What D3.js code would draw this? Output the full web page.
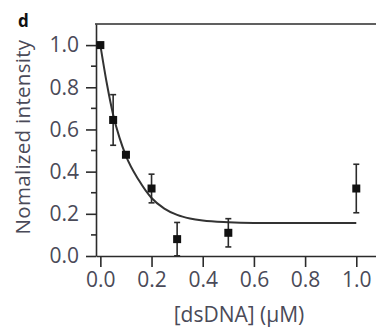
<!DOCTYPE html>
<html>
<head>
<meta charset="utf-8">
<script src="https://cdn.jsdelivr.net/npm/d3@7"></script>
<style>
  body { margin: 0; background: #fff; }
  svg text { font-family: "Open Sans", "Noto Sans", sans-serif; }
</style>
</head>
<body>
<script>
"use strict";
// Data
const conc = [0, 0.05, 0.1, 0.2, 0.3, 0.5, 1.0];
const intensity = [1.0, 0.645, 0.48, 0.32, 0.08, 0.11, 0.32];
const errors = [0, 0.12, 0, 0.068, 0.079, 0.067, 0.115];

// Fitted curve, points
const fitX = [0, 0.025, 0.05, 0.075, 0.1, 0.15, 0.2, 0.25, 0.3, 0.35, 0.4, 0.5, 0.6, 0.8, 1.0];
const fitY = [1.0, 0.82, 0.67, 0.56, 0.475, 0.36, 0.275, 0.225, 0.195, 0.178, 0.168, 0.16, 0.157, 0.156, 0.157];

const xTicks = [0, 0.2, 0.4, 0.6, 0.8, 1.0];
const yTicks = [0, 0.2, 0.4, 0.6, 0.8, 1.0];
const yMinor = [0.1, 0.3, 0.5, 0.7, 0.9];

const width = 376, height = 335;
const ink = "#2b2b2b";
const labelColor = "#4a4a58";

const svg = d3.select("body").append("svg")
    .attr("width", width)
    .attr("height", height);

// Scales
const x = d3.scaleLinear().domain([-0.017, 1.12]).range([96, 387]);
const y = d3.scaleLinear().domain([0, 1.1]).range([256, 24]);

// Top frame line
svg.append("line")
    .attr("x1", 95).attr("x2", width + 10)
    .attr("y1", y(1.1)).attr("y2", y(1.1))
    .attr("stroke", ink).attr("stroke-width", 1.6);

// X axis
const xAxis = svg.append("g")
    .attr("transform", "translate(0," + y(0) + ")")
    .call(d3.axisBottom(x).tickValues(xTicks).tickFormat(d3.format(".1f"))
        .tickSize(11).tickPadding(5).tickSizeOuter(0));
xAxis.select(".domain").attr("stroke", ink).attr("stroke-width", 1.6);
xAxis.selectAll(".tick line").attr("stroke", ink).attr("stroke-width", 1.6);
xAxis.selectAll(".tick text").attr("fill", labelColor).attr("font-size", 21);

// Y axis
const yAxis = svg.append("g")
    .attr("transform", "translate(" + x.range()[0] + ",0)")
    .call(d3.axisLeft(y).tickValues(yTicks).tickFormat(d3.format(".1f"))
        .tickSize(10).tickPadding(7).tickSizeOuter(0));
yAxis.select(".domain").attr("stroke", ink).attr("stroke-width", 1.6);
yAxis.selectAll(".tick line").attr("stroke", ink).attr("stroke-width", 1.6);
yAxis.selectAll(".tick text").attr("fill", labelColor).attr("font-size", 21);

// Minor y ticks
svg.append("g").selectAll("line")
    .data(yMinor)
    .enter().append("line")
    .attr("x1", x.range()[0] - 5).attr("x2", x.range()[0])
    .attr("y1", d => y(d)).attr("y2", d => y(d))
    .attr("stroke", ink).attr("stroke-width", 1.6);

// Fit curve
const line = d3.line()
    .x((d, i) => x(fitX[i]))
    .y(d => y(d))
    .curve(d3.curveMonotoneX);
svg.append("path")
    .datum(fitY)
    .attr("d", line)
    .attr("fill", "none")
    .attr("stroke", "#333")
    .attr("stroke-width", 2);

// Error bars
const pts = conc.map((c, i) => ({ c: c, v: intensity[i], e: errors[i] }));
const bars = svg.append("g").selectAll("g")
    .data(pts.filter(d => d.e > 0))
    .enter().append("g")
    .attr("stroke", ink)
    .attr("stroke-width", 1.6);
bars.append("line")
    .attr("x1", d => x(d.c)).attr("x2", d => x(d.c))
    .attr("y1", d => y(d.v - d.e)).attr("y2", d => y(d.v + d.e));
bars.append("line")
    .attr("x1", d => x(d.c) - 3).attr("x2", d => x(d.c) + 3)
    .attr("y1", d => y(d.v + d.e)).attr("y2", d => y(d.v + d.e));
bars.append("line")
    .attr("x1", d => x(d.c) - 3).attr("x2", d => x(d.c) + 3)
    .attr("y1", d => y(d.v - d.e)).attr("y2", d => y(d.v - d.e));

// Square markers
svg.append("g").selectAll("rect")
    .data(pts)
    .enter().append("rect")
    .attr("x", d => x(d.c) - 4)
    .attr("y", d => y(d.v) - 4)
    .attr("width", 8)
    .attr("height", 8)
    .attr("fill", "#111");

// Axis titles
svg.append("text")
    .attr("transform", "translate(30," + 137 + ") rotate(-90)")
    .attr("text-anchor", "middle")
    .attr("fill", labelColor)
    .attr("font-size", 20.5)
    .attr("letter-spacing", 0.3)
    .text("Nomalized intensity");

svg.append("text")
    .attr("x", 239)
    .attr("y", 322)
    .attr("text-anchor", "middle")
    .attr("fill", labelColor)
    .attr("font-size", 21)
    .text("[dsDNA] (\u00b5M)");

// Panel letter
svg.append("text")
    .attr("x", 18)
    .attr("y", 27)
    .attr("fill", "#111")
    .attr("font-size", 17)
    .attr("font-weight", "bold")
    .text("d");
</script>
</body>
</html>
